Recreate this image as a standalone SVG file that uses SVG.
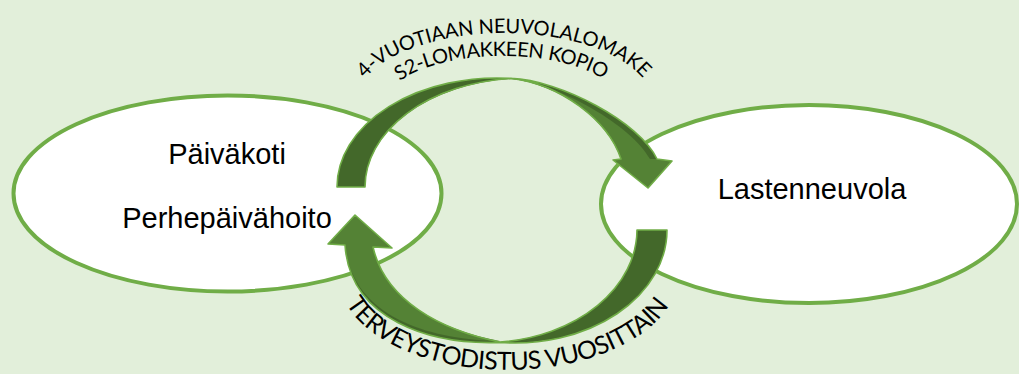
<svg xmlns="http://www.w3.org/2000/svg" width="1019" height="374" viewBox="0 0 1019 374">
<style>
.node ellipse{fill:#FFFFFF;stroke:#70AD47;stroke-width:4}
.lbl{font-family:"Liberation Sans",Arial,sans-serif;font-size:29px;fill:#000;text-anchor:middle}
.arc{font-family:Lato,"Open Sans",sans-serif;fill:#000}
.back{fill:#43682A}
.front{fill:#548235}
.outline{fill:none;stroke:#70AD47;stroke-width:1.6;stroke-linejoin:round}
</style>
<defs>
<path id="tp1" d="M 365,78.5 A 150 72.9 0 0 1 643,78.5"/>
<path id="tp2" d="M 400,81 A 118 48.8 0 0 1 606,81"/>
<path id="tp3" d="M 346,303.5 A 170 95.4 0 0 0 670,303.5"/>
</defs>
<rect x="0" y="0" width="1019" height="374" fill="#E2EFDA"/>
<g id="node-paivakoti" class="node">
<ellipse cx="227.5" cy="193.5" rx="214" ry="98"/>
<text class="lbl" x="227" y="164">Päiväkoti</text>
<text class="lbl" x="227" y="228">Perhepäivähoito</text>
</g>
<g id="node-lastenneuvola" class="node">
<ellipse cx="809" cy="204" rx="208" ry="99"/>
<text class="lbl" x="812" y="199">Lastenneuvola</text>
</g>
<g id="connectors">
<g id="arrow-top">
<path class="back" d="M 337,187 A 160 109 0 0 1 511,78.4 C 560,80 640,122 657,159 L 621,159 C 608,120 560,84 511,79 A 160 109 0 0 0 365,187 Z"/>
<path class="front" d="M 511,79 C 560,84 632,126 650,159 L 657,159 L 672,161 L 648,188 L 613,160 L 621,159 C 608,120 560,84 511,79 Z"/>
<path class="outline" d="M 337,187 L 365,187 A 160 109 0 0 1 511,78.4 C 560,84 608,120 621,159 L 613,160 L 648,188 L 672,161 L 657,159 C 640,122 560,80 511,78.4 A 160 109 0 0 0 337,187 Z"/>
<text class="arc" font-size="20"><textPath href="#tp1" startOffset="0" textLength="300" lengthAdjust="spacing">4-VUOTIAAN NEUVOLALOMAKE</textPath></text>
<text class="arc" font-size="20"><textPath href="#tp2" startOffset="0" textLength="212" lengthAdjust="spacing">S2-LOMAKKEEN KOPIO</textPath></text>
</g>
<g id="arrow-bottom">
<path class="back" d="M 667,230 A 152 113 0 0 1 500,342.4 C 430,345 350,320 345,245 L 373,247 C 385,300 440,330 500,342 A 152 113 0 0 0 637,230 Z"/>
<path class="front" d="M 500,341 C 432,340 352,318 345,245 L 328,244 L 355,215 L 392,248 L 373,247 C 385,300 440,330 500,341 Z"/>
<path class="outline" d="M 637,230 L 667,230 A 152 113 0 0 1 500,342.4 C 430,345 350,320 345,245 L 328,244 L 355,215 L 392,248 L 373,247 C 385,300 440,330 500,342 A 152 113 0 0 0 637,230 Z"/>
<text class="arc" font-size="25"><textPath href="#tp3" startOffset="0" textLength="362" lengthAdjust="spacing">TERVEYSTODISTUS VUOSITTAIN</textPath></text>
</g>
</g>
</svg>
